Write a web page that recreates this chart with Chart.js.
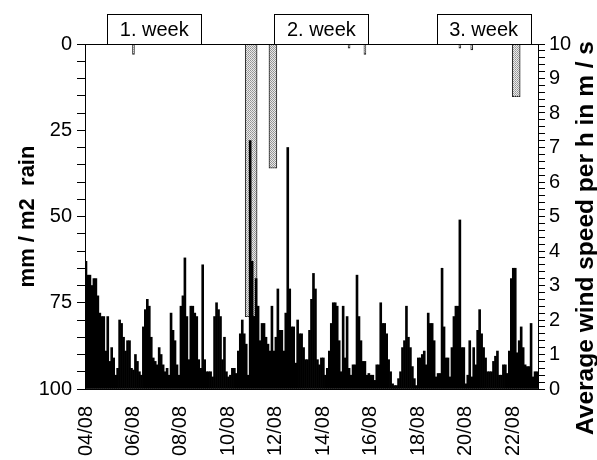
<!DOCTYPE html>
<html><head><meta charset="utf-8">
<script src="https://cdn.jsdelivr.net/npm/chart.js@4.4.1/dist/chart.umd.min.js"></script>
<style>html,body{margin:0;padding:0;background:#fff}#wrap{width:597px;height:460px}</style>
</head><body><div id="wrap"><canvas id="c" width="597" height="460"></canvas></div>
<script>
// ---- data ----
const binHours = 2;                       // wind values are 2-hourly means
const dateTickLabels = ['04/08','06/08','08/08','10/08','12/08','14/08','16/08','18/08','20/08','22/08'];
const hoursPerDateTick = 48;
const windSpeed = [
 3.7,3.3,3.3,3.0,3.2,3.2,2.7,2.2,2.1,2.1,1.1,2.1,
 0.8,1.2,0.9,0.4,0.6,2.0,1.9,1.5,1.1,1.4,1.4,0.6,
 0.55,1.0,0.8,0.5,0.4,1.8,2.3,2.6,2.4,1.5,0.9,0.8,
 0.7,1.2,1.0,0.7,0.5,0.6,0.4,2.2,1.7,1.4,0.7,0.4,
 2.4,2.7,3.8,2.1,0.85,2.4,2.4,2.2,2.1,0.85,0.6,3.6,
 0.85,0.5,0.5,0.5,0.35,2.1,2.5,2.3,2.1,0.85,1.5,0.5,
 0.35,0.4,0.6,0.6,0.45,1.1,1.6,2.0,1.6,1.3,0.4,7.2,
 3.7,2.1,3.2,2.4,1.4,1.9,1.9,1.5,1.3,1.1,2.4,1.1,
 1.5,2.9,1.7,1.7,1.1,2.2,7.0,2.9,1.8,1.8,0.75,2.0,
 1.6,1.6,1.2,0.85,0.85,1.7,2.6,3.35,2.9,0.85,0.7,0.9,
 0.9,0.4,0.6,1.1,1.9,2.5,2.5,2.4,1.4,0.5,2.4,0.9,
 2.1,0.6,0.4,0.7,0.7,3.3,2.1,1.4,0.8,0.8,0.4,0.45,
 0.4,0.4,0.25,0.7,0.7,2.5,1.9,1.9,1.6,0.85,0.5,0.15,
 0.1,0.1,0.3,0.5,1.2,1.4,2.4,1.5,1.2,0.65,0.3,0.1,
 0.9,0.9,1.0,1.1,0.7,2.2,1.9,1.9,1.4,0.35,0.45,0.45,
 3.5,1.8,0.9,0.9,0.35,1.2,2.1,2.4,2.4,4.9,1.2,1.2,
 0.15,0.4,1.4,0.35,1.2,0.7,1.7,2.3,1.6,1.2,0.9,0.5,
 0.5,0.5,0.8,0.95,1.1,0.4,0.4,0.7,0.7,0.45,1.1,3.2,
 3.5,3.5,1.05,1.4,1.8,1.2,0.7,0.65,0.65,1.9,0.35,0.5,0.5
];
const rainStartH = [48, 162, 186, 266, 282, 378, 390, 432];
const rainDurH   = [2, 12, 8, 2, 2, 2, 2, 8];
const rainMm     = [3, 79, 36, 1.2, 3, 1.2, 1.7, 15.3];
const weekLabels  = ['1. week', '2. week', '3. week'];
const weekCenterH = [70, 239, 403];

// ---- build tables for the library ----
const N = windSpeed.length;
const binLabels = Array.from({length: N}, (_, i) => String(i));
const rainSeries = new Array(N).fill(null);
const rainEdge = new Array(N).fill(null);
rainStartH.forEach((s, k) => {
  const b0 = s / binHours, b1 = (s + rainDurH[k]) / binHours - 1;
  for (let b = b0; b <= b1; b++) {
    rainSeries[b] = rainMm[k];
    rainEdge[b] = {first: b === b0, last: b === b1};
  }
});
const ticksEvery = hoursPerDateTick / binHours;

function makePattern() {
  const c = document.createElement('canvas'); c.width = 2; c.height = 2;
  const x = c.getContext('2d');
  x.fillStyle = '#e8e8e8'; x.fillRect(0, 0, 2, 2);
  x.fillStyle = '#929292'; x.fillRect(0, 0, 1, 1); x.fillRect(1, 1, 1, 1);
  return x.createPattern(c, 'repeat');
}

const FONT = "'Liberation Sans', Arial, Helvetica, sans-serif";
Chart.defaults.font.family = FONT;
Chart.defaults.color = '#000';

const decor = {
  id: 'decor',
  afterDatasetsDraw(chart) {
    const {ctx, chartArea: a} = chart;
    ctx.save();
    ctx.strokeStyle = '#000'; ctx.lineWidth = 1;
    ctx.beginPath(); ctx.moveTo(a.left, Math.round(a.top) + 0.5); ctx.lineTo(a.right, Math.round(a.top) + 0.5); ctx.stroke();
    ctx.restore();
  },
  afterDraw(chart) {
    const {ctx, chartArea: a, scales} = chart;
    ctx.save();
    ctx.font = '20px ' + FONT;
    ctx.textAlign = 'center'; ctx.textBaseline = 'middle';
    weekLabels.forEach((t, i) => {
      const cx = scales.x.getPixelForValue(weekCenterH[i] / binHours - 0.5);
      const w = 94, h = 30;
      const x0 = Math.round(cx - w / 2) + 0.5, y0 = Math.round(a.top - h) + 0.5;
      ctx.fillStyle = '#fff'; ctx.fillRect(x0, y0, w, h);
      ctx.strokeStyle = '#000'; ctx.lineWidth = 1; ctx.strokeRect(x0, y0, w, h);
      ctx.fillStyle = '#000'; ctx.fillText(t, cx, a.top - h / 2 + 1);
    });
    // right axis title, reading bottom to top
    ctx.font = 'bold 24.5px ' + FONT;
    ctx.translate(586, 238);
    ctx.rotate(-Math.PI / 2);
    ctx.fillText('Average wind speed per h in m / s', 0, 0);
    ctx.restore();
  }
};

new Chart(document.getElementById('c'), {
  type: 'bar',
  data: {
    labels: binLabels,
    datasets: [
      {
        label: 'wind', data: windSpeed, yAxisID: 'yWind', order: 0, grouped: false,
        backgroundColor: '#000', borderWidth: 0,
        categoryPercentage: 1, barPercentage: 1
      },
      {
        label: 'rain', data: rainSeries, yAxisID: 'yRain', order: 1, grouped: false,
        backgroundColor: makePattern(), borderColor: '#222', borderSkipped: false,
        borderWidth: ctx => {
          const e = rainEdge[ctx.dataIndex];
          if (!e) return 0;
          return {top: 0, bottom: 1, left: e.first ? 1 : 0, right: e.last ? 1 : 0};
        },
        categoryPercentage: 1, barPercentage: 1
      }
    ]
  },
  options: {
    responsive: false, devicePixelRatio: 1, animation: false,
    layout: {padding: {top: 44, left: 0, right: 0, bottom: 0}},
    plugins: {legend: {display: false}, tooltip: {enabled: false}},
    scales: {
      x: {
        type: 'category', offset: true,
        grid: {display: false, drawTicks: false},
        border: {display: true, color: '#000', width: 1},
        ticks: {
          autoSkip: false, maxRotation: 90, minRotation: 90, padding: 17,
          font: {size: 20}, color: '#000',
          callback: (v, i) => (i % ticksEvery === 0 ? dateTickLabels[i / ticksEvery] : '')
        },
        afterFit: s => { s.height = 71; }
      },
      yRain: {
        type: 'linear', position: 'left', reverse: true, min: 0, max: 100,
        grid: {drawOnChartArea: false, drawTicks: true, tickLength: 8, color: '#000'},
        border: {display: true, color: '#000', width: 1},
        ticks: {
          stepSize: 5, autoSkip: false, padding: 5, font: {size: 20}, color: '#000',
          callback: v => (v % 25 === 0 ? v : '')
        },
        title: {display: true, text: 'mm / m2  rain', font: {size: 22, weight: 'bold'}, color: '#000', padding: {top: 15, bottom: 0}},
        afterFit: s => { s.width = 85; }
      },
      yWind: {
        type: 'linear', position: 'right', min: 0, max: 10,
        grid: {drawOnChartArea: false, drawTicks: true, tickLength: 7, color: '#000'},
        border: {display: true, color: '#000', width: 1},
        ticks: {
          stepSize: 0.2, autoSkip: false, padding: 4, font: {size: 20}, color: '#000',
          callback: v => (Math.abs(v - Math.round(v)) < 1e-6 ? Math.round(v) : '')
        },
        afterFit: s => { s.width = 59; }
      }
    }
  },
  plugins: [decor]
});
</script>
</body></html>
